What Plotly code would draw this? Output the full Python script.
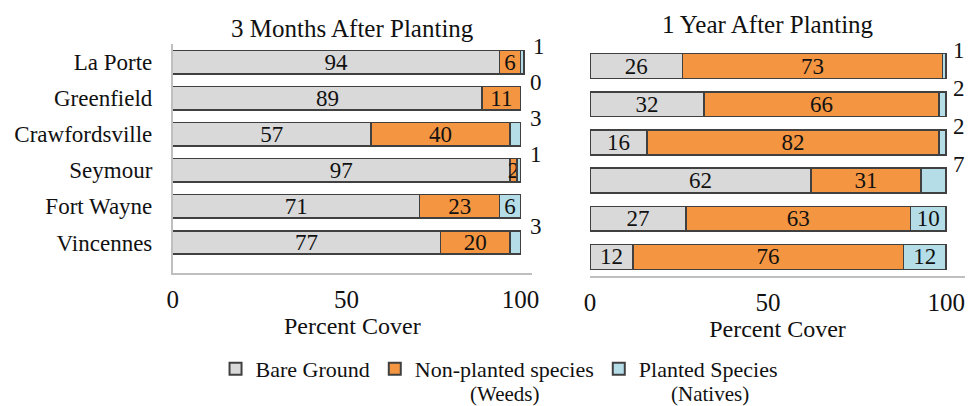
import plotly.graph_objects as go

sites = ["La Porte", "Greenfield", "Crawfordsville", "Seymour", "Fort Wayne", "Vincennes"]
bare_3m = [94, 89, 57, 97, 71, 77]
weeds_3m = [6, 11, 40, 2, 23, 20]
natives_3m = [1, 0, 3, 1, 6, 3]
bare_1y = [26, 32, 16, 62, 27, 12]
weeds_1y = [73, 66, 82, 31, 63, 76]
natives_1y = [1, 2, 2, 7, 10, 12]
series_names = ["Bare Ground", "Non-planted species", "Planted Species"]
series_sub = ["", "(Weeds)", "(Natives)"]
panel_titles = ["3 Months After Planting", "1 Year After Planting"]
tick_vals = [0, 50, 100]
axis_title = "Percent Cover"

# which "Planted" labels sit outside the bar (style)
natives_outside_3m = [True, True, True, True, False, True]
natives_outside_1y = [True, True, True, True, False, False]

FONT = "Liberation Serif"
colors = ["#D9D9D9", "#F39541", "#B5DDE8"]
edge = "#404040"
TXT = "#111111"

fig = go.Figure()

panels = [
    (bare_3m, weeds_3m, natives_3m, natives_outside_3m, "x", "y", 7),
    (bare_1y, weeds_1y, natives_1y, natives_outside_1y, "x2", "y2", 5),
]

for p, (bare, weeds, nat, outside, xa, ya, xs) in enumerate(panels):
    for s, vals in enumerate([bare, weeds, nat]):
        if s == 2:
            texts = ["" if o else str(v) for v, o in zip(vals, outside)]
        else:
            texts = [str(v) for v in vals]
        fig.add_trace(go.Bar(
            y=sites, x=vals, orientation="h", name=series_names[s],
            marker=dict(color=colors[s], line=dict(color=edge, width=1.5)),
            text=texts, textposition="inside", insidetextanchor="middle",
            constraintext="none", textangle=0,
            insidetextfont=dict(family=FONT, size=23, color=TXT),
            width=0.65, xaxis=xa, yaxis=ya,
            showlegend=(p == 0), legendgroup=series_names[s],
            hoverinfo="skip",
        ))
    for i, site in enumerate(sites):
        if outside[i]:
            fig.add_annotation(
                x=bare[i] + weeds[i] + nat[i], y=site, xref=xa, yref=ya,
                text=str(nat[i]), showarrow=False, xanchor="left", yanchor="middle",
                xshift=xs, yshift=16, font=dict(family=FONT, size=23, color=TXT),
            )

xcommon = dict(tickvals=tick_vals, showgrid=False, zeroline=False, showline=True,
               linecolor="#BFBFBF", linewidth=1.5, ticks="", ticklabelstandoff=3,
               automargin=False,
               tickfont=dict(family=FONT, size=25, color=TXT),
               title=dict(text=axis_title, font=dict(family=FONT, size=24, color=TXT),
                          standoff=0))

fig.update_layout(
    barmode="stack",
    width=969, height=406,
    margin=dict(l=0, r=0, t=0, b=0, autoexpand=False),
    paper_bgcolor="white", plot_bgcolor="white",
    font=dict(family=FONT, color=TXT),
    xaxis=dict(domain=[0.1782, 0.549], range=[0, 103.3], anchor="y", **xcommon),
    yaxis=dict(domain=[0.3276, 0.8916], categoryorder="array", categoryarray=sites,
               autorange="reversed", showgrid=False, zeroline=False, showline=True,
               linecolor="#BFBFBF", linewidth=1.5, ticks="", ticklabelstandoff=14,
               automargin=False,
               tickfont=dict(family=FONT, size=23, color=TXT), anchor="x"),
    xaxis2=dict(domain=[0.6089, 0.9959], range=[0, 105.3], anchor="y2", **xcommon),
    yaxis2=dict(domain=[0.3202, 0.8842], categoryorder="array", categoryarray=sites,
                autorange="reversed", showgrid=False, zeroline=False, showline=False,
                showticklabels=False, ticks="", anchor="x2", automargin=False),
    legend=dict(orientation="h", x=0.515, xanchor="center", y=0.143, yanchor="top",
                font=dict(family=FONT, size=22, color=TXT),
                traceorder="normal", itemsizing="constant", tracegroupgap=0),
)

fig.add_annotation(text=panel_titles[0], x=0.3633, y=1 - 28 / 406, xref="paper", yref="paper",
                   showarrow=False, xanchor="center", yanchor="middle",
                   font=dict(family=FONT, size=25, color=TXT))
fig.add_annotation(text=panel_titles[1], x=0.7926, y=1 - 25 / 406, xref="paper", yref="paper",
                   showarrow=False, xanchor="center", yanchor="middle",
                   font=dict(family=FONT, size=25, color=TXT))
fig.add_annotation(text=series_sub[1], x=505 / 969, y=1 - 394 / 406, xref="paper", yref="paper",
                   showarrow=False, xanchor="center", yanchor="middle",
                   font=dict(family=FONT, size=21, color=TXT))
fig.add_annotation(text=series_sub[2], x=710 / 969, y=1 - 394 / 406, xref="paper", yref="paper",
                   showarrow=False, xanchor="center", yanchor="middle",
                   font=dict(family=FONT, size=21, color=TXT))

fig.write_html("out.html", config={"displayModeBar": False},
               post_script="document.body.style.margin='0';")
